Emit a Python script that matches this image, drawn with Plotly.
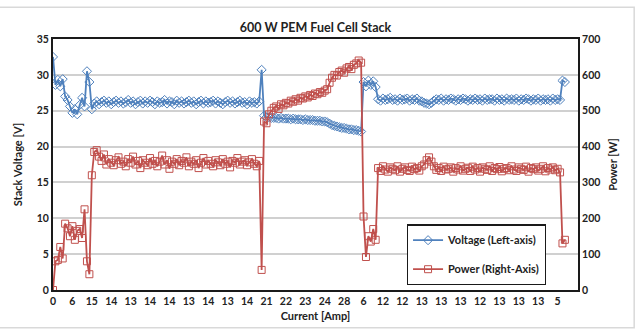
import plotly.graph_objects as go

x_labels = ["0", "6", "15", "14", "13", "14", "14", "13", "14", "13", "14", "21", "22", "23",
            "24", "28", "6", "12", "12", "13", "13", "13", "12", "13", "13", "13", "5"]
points_per_label = 8

voltage = [32.5, 28.6, 29.3, 28.4, 29.4, 27.0, 26.5, 25.6, 24.7, 25.2, 24.5, 25.8, 26.8, 25.6, 30.5, 29.0, 25.2,
           26.0, 26.3, 25.9, 26.2, 26.4, 26.1, 26.3, 25.9, 26.2, 26.4,
           26.1, 26.3, 26.0, 26.2, 26.5, 26.1, 26.3, 25.9, 26.2, 26.4,
           26.0, 26.3, 26.1, 26.4, 26.2, 25.9, 26.3, 26.1, 26.2, 26.5,
           26.0, 26.3, 26.2, 25.9, 26.4, 26.1, 26.3, 26.0, 26.2, 26.4,
           26.1, 26.3, 25.9, 26.2, 26.4, 26.0, 26.3, 26.1, 26.2, 26.4,
           26.0, 26.3, 26.1, 25.9, 26.2, 26.4, 26.1, 26.3, 26.0, 26.2,
           26.4, 26.1, 26.2, 25.9, 26.3, 26.1, 26.2, 26.0, 26.3,
           30.7,
           24.3, 24.1, 24.1, 24.0, 24.0, 24.0, 23.9, 24.0, 23.9, 23.9,
           23.9, 23.8, 23.9, 23.8, 23.8, 23.8, 23.7, 23.8, 23.7, 23.7,
           23.7, 23.6, 23.6, 23.6, 23.5, 23.5, 23.4,
           23.2, 23.0, 22.9, 22.8, 22.7, 22.6, 22.6, 22.5, 22.4, 22.4, 22.3, 22.3, 22.2, 22.1,
           29.0, 28.4, 29.2, 28.6, 29.1, 28.3,
           26.6, 26.4, 26.7, 26.5, 26.6, 26.8, 26.5, 26.6, 26.4, 26.7,
           26.5, 26.6, 26.7, 26.4, 26.6, 26.5, 26.7, 26.4, 26.3, 26.1,
           26.0, 25.9, 26.1, 26.4, 26.6, 26.5, 26.7, 26.4, 26.6, 26.5,
           26.7, 26.6, 26.4, 26.6, 26.5, 26.7, 26.6, 26.4, 26.6, 26.5,
           26.7, 26.5, 26.6, 26.4, 26.7, 26.5, 26.6, 26.6, 26.4, 26.7,
           26.5, 26.6, 26.4, 26.7, 26.5, 26.6, 26.5, 26.7, 26.4, 26.6,
           26.5, 26.7, 26.6, 26.4, 26.6, 26.5, 26.7, 26.4, 26.6, 26.5,
           26.6, 26.4, 26.7, 26.5, 26.6, 26.5,
           29.2, 29.0]

power = [0, 80, 84, 120, 88, 185, 172, 150, 178, 140, 165, 170, 145, 225, 80, 44, 320,
         385, 390, 372, 360, 378, 350, 365, 355, 348, 362,
         370, 352, 358, 345, 365, 355, 372, 350, 360, 340,
         362, 355, 348, 368, 352, 360, 345, 358, 375, 350,
         362, 338, 358, 352, 365, 348, 360, 355, 370, 345,
         358, 352, 362, 340, 355, 368, 350, 360, 352, 345,
         362, 356, 348, 365, 352, 358, 342, 360, 355, 368,
         350, 358, 362, 348, 356, 365, 352, 345, 360,
         56,
         470, 465, 490, 500, 508, 512, 505, 518, 515, 522,
         520, 528, 525, 532, 528, 536, 534, 540, 537, 544,
         541, 548, 546, 552, 550, 556, 560,
         578, 592, 600, 598, 608, 612, 606, 618, 622, 616, 628, 632, 640, 634,
         205, 92, 150, 135, 170, 140,
         340, 332, 345, 336, 330, 342, 338, 334, 345, 330,
         338, 342, 335, 332, 344, 337, 340, 333, 345, 350,
         362, 370, 358, 345, 335, 340, 332, 344, 336, 338,
         342, 330, 340, 336, 345, 333, 338, 341, 332, 344,
         336, 340, 330, 342, 338, 335, 345, 332, 340, 337,
         343, 331, 338, 340, 334, 345, 336, 332, 342, 338,
         335, 344, 330, 340, 337, 342, 333, 338, 345, 331,
         340, 336, 342, 334, 338, 328,
         130, 140]

idx = list(range(len(voltage)))
tickvals = [i * points_per_label for i in range(len(x_labels))]

FONT = "Lato"
BLUE = "#4F81BD"
RED = "#C0504D"

fig = go.Figure()
fig.add_trace(go.Scatter(
    x=idx, y=voltage, name="<b>Voltage (Left-axis)</b>", mode="lines+markers", legendgroup="v",
    line=dict(color=BLUE, width=1.8),
    marker=dict(symbol="diamond-open", size=7, color=BLUE, line=dict(width=1)),
))
fig.add_trace(go.Scatter(
    x=idx, y=power, name="<b>Power (Right-Axis)</b>", mode="lines+markers", yaxis="y2", legendgroup="p",
    line=dict(color=RED, width=1.8),
    marker=dict(symbol="square-open", size=7, color=RED, line=dict(width=1)),
))

fig.update_layout(
    width=637, height=333,
    margin=dict(l=53, r=59, t=39, b=41),
    paper_bgcolor="white", plot_bgcolor="white",
    font=dict(family=FONT, size=10.5, color="#222"),
    title=dict(text="<b>600 W PEM Fuel Cell Stack</b>", x=0.5, xref="paper", xanchor="center",
               y=1 - 28 / 333, yref="container", yanchor="middle",
               font=dict(family=FONT, size=12.5, color="#222")),
    xaxis=dict(range=[0, 216.4], tickvals=tickvals, ticktext=[f"<b>{t}</b>" for t in x_labels],
               showgrid=False, showline=True, linecolor="#1a1a1a", linewidth=2, mirror=True,
               ticks="", zeroline=False,
               title=dict(text="<b>Current [Amp]</b>", standoff=7, font=dict(size=11))),
    yaxis=dict(range=[0, 35], dtick=5, showgrid=True, gridcolor="#D0D0D0", gridwidth=1.5,
               showline=True, linecolor="#1a1a1a", linewidth=2, zeroline=False,
               tickprefix="<b>", ticksuffix="</b>", ticks="",
               title=dict(text="<b>Stack Voltage [V]</b>", standoff=12, font=dict(size=11))),
    yaxis2=dict(range=[0, 700], dtick=100, overlaying="y", side="right", showgrid=False,
                showline=True, linecolor="#1a1a1a", linewidth=2, zeroline=False,
                tickprefix="<b>", ticksuffix="</b>", ticks="",
                title=dict(text="<b>Power [W]</b>", standoff=10, font=dict(size=11))),
    legend=dict(x=0.674, y=0.261, xanchor="left", yanchor="top",
                bordercolor="#1a1a1a", borderwidth=1.2, bgcolor="white",
                font=dict(family=FONT, size=11, color="#222"),
                tracegroupgap=10, itemwidth=30),
    showlegend=True,
)

fig.add_shape(type="rect", xref="paper", yref="paper",
              x0=-0.11, x1=1.107, y0=-0.150, y1=1.126,
              line=dict(color="#D9D9D9", width=1.5), layer="below")

fig.write_html("out.html")
